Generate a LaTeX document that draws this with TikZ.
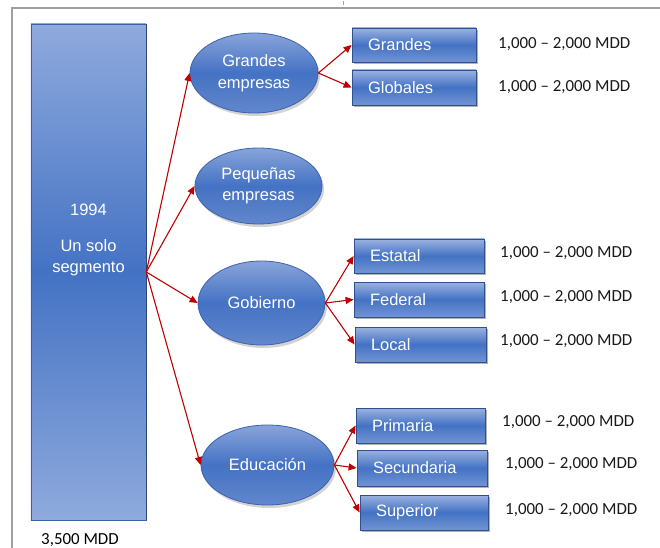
\documentclass[tikz,border=0pt]{standalone}
\usepackage{fontspec}
\setmainfont{Liberation Sans}
\newfontfamily\calibri{Carlito}
\usetikzlibrary{shapes.geometric,shadows,arrows.meta}
\definecolor{barLight}{HTML}{8FAADC}
\definecolor{barDark}{HTML}{4472C4}
\definecolor{ellTop}{HTML}{88A4DA}
\definecolor{ellBot}{HTML}{6287CC}
\definecolor{ellBorder}{HTML}{3D62AC}
\definecolor{boxTop}{HTML}{9AB2E0}
\definecolor{boxBot}{HTML}{7294D2}
\definecolor{boxBorder}{HTML}{2F528F}
\definecolor{arrowRed}{HTML}{C00000}
\definecolor{frameGray}{HTML}{A0A0A0}
\begin{document}
\begin{tikzpicture}[x=1bp,y=-1bp,
  every node/.style={font=\fontsize{16.5bp}{21.5bp}\selectfont},
  barbox/.style={rectangle, draw=barDark!85!black, line width=0.6bp,
    top color=barLight, bottom color=barLight, middle color=barDark,
    minimum width=115bp, minimum height=496bp, inner sep=0pt},
  ell/.style={ellipse, draw=ellBorder, line width=0.8bp,
    top color=ellTop, bottom color=ellBot, middle color=barDark,
    text=white, align=center, inner sep=0pt,
    drop shadow={shadow xshift=2bp, shadow yshift=-3bp, opacity=0.35}},
  segbox/.style={rectangle, draw=boxBorder, line width=0.8bp,
    top color=boxTop, bottom color=boxBot, middle color=barDark,
    text=white, align=left, inner xsep=16bp, inner ysep=0pt,
    text width=#1, minimum height=35bp,
    drop shadow={shadow xshift=2bp, shadow yshift=-2bp, opacity=0.6}},
  amount/.style={anchor=west, inner sep=0pt, text=black!90,
    font=\calibri\fontsize{16.9bp}{20bp}\selectfont},
  conn/.style={draw=arrowRed, line width=1.1bp,
    -{Triangle[length=8bp,width=7bp]}}
]
\useasboundingbox (0,0) rectangle (660,548);
% frame
\draw[frameGray, line width=2bp] (12,548) -- (12,8) -- (660,8);
\draw[frameGray, line width=1bp] (343,1) -- (343,5);

% main bar
\node[barbox] (bar) at (88.5,272) {};
\draw[barDark!60!black, line width=1.2bp] (bar.north east) -- (bar.south east);
\node[text=white, align=center, inner sep=0pt] (bartext) at (88.5,240)
  {1994\\[14bp]Un solo\\segmento};
\node[inner sep=0pt, font=\calibri\fontsize{16.9bp}{20bp}\selectfont] (total) at (80,540) {3,500 MDD};

% ellipses
\node[ell, minimum width=128bp, minimum height=80bp] (ge) at (254,73) {Grandes\\empresas};
\node[ell, minimum width=127bp, minimum height=76bp] (pe) at (258.5,186) {Pequeñas\\empresas};
\node[ell, minimum width=127bp, minimum height=84bp] (go) at (261.5,303) {Gobierno};
\node[ell, minimum width=133bp, minimum height=80bp] (ed) at (267.5,465) {Educación};

% boxes
\node[segbox=92bp, minimum height=34bp] (b1) at (414,45) {Grandes};
\node[segbox=92bp] (b2) at (414,87.5) {Globales};
\node[segbox=98bp, minimum height=34bp] (b3) at (419,256) {Estatal};
\node[segbox=98bp] (b4) at (419,299.5) {Federal};
\node[segbox=99bp] (b5) at (420.5,344.5) {Local};
\node[segbox=97bp] (b6) at (420.5,425.5) {Primaria};
\node[segbox=98bp, minimum height=36bp] (b7) at (422,468) {Secundaria};
\node[segbox=96bp] (b8) at (424,512.5) {Superior};

% amounts
\node[amount] (a1) at (498,44) {1,000 – 2,000 MDD};
\node[amount] (a2) at (498,87) {1,000 – 2,000 MDD};
\node[amount] (a3) at (500,253) {1,000 – 2,000 MDD};
\node[amount] (a4) at (500,297) {1,000 – 2,000 MDD};
\node[amount] (a5) at (500,341) {1,000 – 2,000 MDD};
\node[amount] (a6) at (502,422) {1,000 – 2,000 MDD};
\node[amount] (a7) at (505,464) {1,000 – 2,000 MDD};
\node[amount] (a8) at (505,510) {1,000 – 2,000 MDD};

% connectors
\draw[conn] (bar.east) -- (ge.west);
\draw[conn] (bar.east) -- (pe.west);
\draw[conn] (bar.east) -- (go.west);
\draw[conn] (bar.east) -- (ed.west);
\draw[conn] (ge.east) -- (b1.west);
\draw[conn] (ge.east) -- (b2.west);
\draw[conn] (go.east) -- (b3.west);
\draw[conn] (go.east) -- (b4.west);
\draw[conn] (go.east) -- (b5.west);
\draw[conn] (ed.east) -- (b6.west);
\draw[conn] (ed.east) -- (b7.west);
\draw[conn] (ed.east) -- (b8.west);
\end{tikzpicture}
\end{document}
